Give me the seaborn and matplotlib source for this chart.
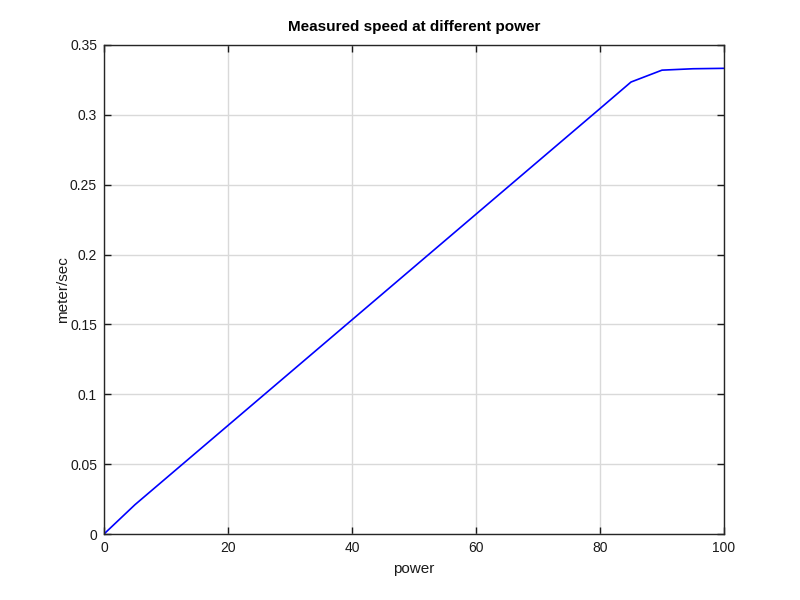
import matplotlib
matplotlib.use("Agg")
import matplotlib.pyplot as plt
import seaborn as sns
import pandas as pd

power = [0, 5, 10, 15, 20, 25, 30, 35, 40, 45, 50, 55, 60, 65, 70, 75, 80, 85, 90, 95, 100]
speed = [0.0, 0.0210, 0.0399, 0.0588, 0.0777, 0.0966, 0.1155, 0.1344, 0.1533, 0.1722, 0.1911,
         0.2100, 0.2289, 0.2478, 0.2667, 0.2856, 0.3045, 0.3235, 0.3320, 0.3330, 0.3333]

sns.set_theme(style="ticks")
plt.rcParams['font.family'] = ['Liberation Sans', 'DejaVu Sans']

df = pd.DataFrame({"power": power, "speed": speed})

fig = plt.figure(figsize=(8, 6), dpi=100)
ax = fig.add_axes([0.13, 0.11, 0.775, 0.815])
sns.lineplot(data=df, x="power", y="speed", ax=ax, color="#0000ff", linewidth=1.2)

ax.set_xlim(0, 100)
ax.set_ylim(0, 0.35)
ax.set_xticks([0, 20, 40, 60, 80, 100])
ax.set_yticks([0, 0.05, 0.1, 0.15, 0.2, 0.25, 0.3, 0.35])
ax.set_yticklabels(["0", "0.05", "0.1", "0.15", "0.2", "0.25", "0.3", "0.35"])
ax.grid(True, color="#d9d9d9", linewidth=1.0)
ax.set_axisbelow(True)
ax.tick_params(direction="in", top=True, right=True, length=5, width=1,
               labelsize=10, colors="#1a1a1a", pad=5)
for s in ax.spines.values():
    s.set_color("#262626")
    s.set_linewidth(1.0)

ax.set_xlabel("power", fontsize=11, color="#1a1a1a", labelpad=5)
ax.set_ylabel("meter/sec", fontsize=11, color="#1a1a1a", labelpad=0)
ax.set_title("Measured speed at different power", fontsize=11, fontweight="bold", pad=10,
             color="#000000")

fig.savefig("out.png", dpi=100)
